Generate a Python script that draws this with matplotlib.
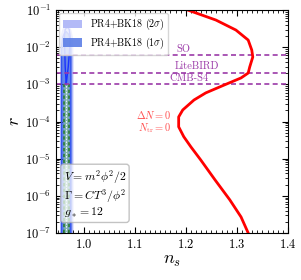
import numpy as np
import matplotlib
matplotlib.use('Agg')
import matplotlib.pyplot as plt

plt.rcParams['font.family'] = 'serif'
plt.rcParams['font.serif'] = ['cmr10']
plt.rcParams['mathtext.fontset'] = 'cm'
plt.rcParams['axes.unicode_minus'] = False
plt.rcParams['axes.formatter.use_mathtext'] = True

# red curve: Delta N = 0, N_tr = 0
red_ns = [1.204, 1.259, 1.298, 1.322, 1.329, 1.331, 1.325, 1.322, 1.308, 1.275,
          1.239, 1.216, 1.194, 1.186, 1.186, 1.196, 1.210, 1.229, 1.257, 1.286,
          1.308, 1.322]
red_r = [1e-1, 5.38e-2, 2.9e-2, 1.56e-2, 8.4e-3, 5.46e-3, 2.94e-3, 2.02e-3, 1.49e-3,
         9.6e-4, 5.9e-4, 3.8e-4, 2.05e-4, 1.33e-4, 7.2e-5, 3.9e-5, 2.07e-5, 9.3e-6,
         2.7e-6, 7.8e-7, 2.7e-7, 1e-7]

# PR4+BK18 contours (edges)
c2_r = [1e-7, 1e-3, 1e-2, 2e-2, 3e-2, 3.8e-2, 4.2e-2]
c2_left = [0.953, 0.953, 0.953, 0.954, 0.957, 0.961, 0.966]
c2_right = [0.979, 0.979, 0.979, 0.978, 0.975, 0.971, 0.966]
c1_r = [1e-7, 1e-3, 1e-2, 1.8e-2, 2.3e-2, 2.6e-2]
c1_left = [0.957, 0.957, 0.957, 0.959, 0.962, 0.966]
c1_right = [0.975, 0.975, 0.975, 0.973, 0.970, 0.966]

# blue loop (model prediction)
loop_ns = [0.966, 0.964, 0.963, 0.9625, 0.964, 0.968, 0.972, 0.9735, 0.973, 0.970, 0.966]
loop_r = [1e-3, 3e-3, 1e-2, 2e-2, 3e-2, 3.5e-2, 3e-2, 2e-2, 1e-2, 3e-3, 1e-3]

# green band
green_ns = [0.962, 0.971]
green_r = [1e-7, 1e-3]

# future experiments
exp_names = ['SO', 'LiteBIRD', 'CMB-S4']
exp_r = [6e-3, 2e-3, 1e-3]
exp_label_ns = [1.195, 1.222, 1.207]

fig = plt.figure(figsize=(3.01, 2.80), dpi=100)
ax = fig.add_axes([0.186, 0.168, 0.771, 0.796])

ax.fill_betweenx(c2_r, c2_left, c2_right, color='#b3baf7', lw=0,
                 label=r'PR4+BK18 ($2\sigma$)')
ax.fill_betweenx(c1_r, c1_left, c1_right, color='#5c7fe6', lw=0, alpha=0.9,
                 label=r'PR4+BK18 ($1\sigma$)')
ax.plot(c1_left, c1_r, color='#3355ee', lw=1)
ax.plot(c1_right, c1_r, color='#3355ee', lw=1)

ax.fill_betweenx(green_r, green_ns[0], green_ns[1], color='#88c49a', alpha=0.7, lw=0)
for x in green_ns:
    ax.plot([x, x], green_r, color='#2e7d32', ls='--', lw=1.2, dashes=(2, 1.5))
ax.plot([np.mean(green_ns)] * 2, green_r, color='white', ls='--', lw=0.6, dashes=(2, 1.5))

ax.plot(loop_ns, loop_r, color='#1a33ff', lw=1)

for name, rv, xl in zip(exp_names, exp_r, exp_label_ns):
    ax.axhline(rv, color='#9b3aa8', ls='--', lw=1.2, dashes=(3, 2))
    ax.text(xl, rv * 1.12, name, color='#9b3aa8', fontsize=7.5, ha='center', va='bottom')

ax.plot(red_ns, red_r, color='red', lw=2)
ax.text(1.172, 1.5e-4, r'$\Delta N = 0$', color='#ff5050', fontsize=7.5, ha='right', va='center')
ax.text(1.172, 6.5e-5, r'$N_{\rm tr} = 0$', color='#ff5050', fontsize=7.5, ha='right', va='center')

ax.text(0.961, 2.3e-7, '$V = m^2\\phi^2/2$\n$\\Gamma = CT^3/\\phi^2$\n$g_* = 12$',
        fontsize=8.5, va='bottom', ha='left', linespacing=1.05,
        bbox=dict(boxstyle='round,pad=0.25', fc='white', ec='#aaaaaa', alpha=0.7))

ax.set_yscale('log')
ax.set_xlim(0.946, 1.4)
ax.set_ylim(1e-7, 1e-1)
ax.set_xticks([1.0, 1.1, 1.2, 1.3, 1.4])
ax.set_xticks(np.arange(0.95, 1.4, 0.01), minor=True)
ax.tick_params(which='both', direction='in', top=True, right=True, labelsize=9)
ax.tick_params(which='major', length=4)
ax.tick_params(which='minor', length=2)
ax.set_xlabel('$n_s$', fontsize=13, labelpad=2)
ax.set_ylabel('$r$', fontsize=13, labelpad=2)

ax.legend(loc='upper left', fontsize=7.2, handlelength=1.9, handleheight=0.9,
          framealpha=0.8, borderaxespad=0.3, labelspacing=0.35)

fig.savefig('out.png', dpi=100)
